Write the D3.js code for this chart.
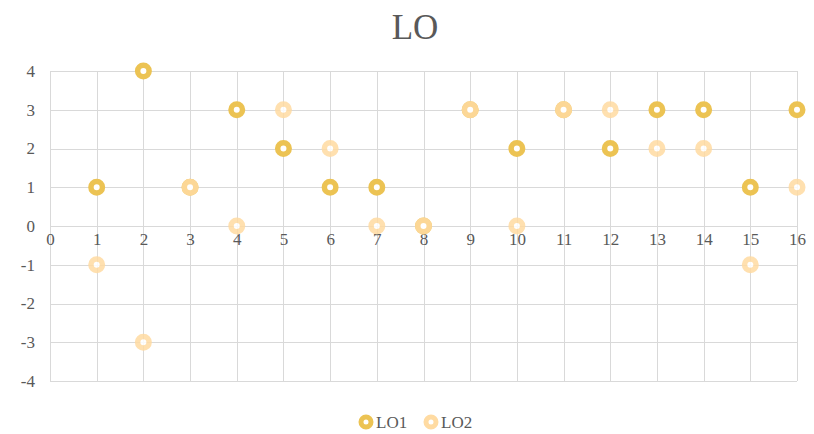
<!DOCTYPE html>
<html>
<head>
<meta charset="utf-8">
<script src="https://cdn.jsdelivr.net/npm/d3@7"></script>
<style>
  html, body { margin: 0; padding: 0; background: #fff; }
  svg text { font-family: "Liberation Serif", "DejaVu Serif", serif; fill: #595959; }
</style>
</head>
<body>
<svg id="chart" width="814" height="434"></svg>
<script>
// Series data: x position 1..16 for each point
const xValues = [1, 2, 3, 4, 5, 6, 7, 8, 9, 10, 11, 12, 13, 14, 15, 16];
const lo1 = [1, 4, 1, 3, 2, 1, 1, 0, 3, 2, 3, 2, 3, 3, 1, 3];
const lo2 = [-1, -3, 1, 0, 3, 2, 0, 0, 3, 0, 3, 3, 2, 2, -1, 1];
const seriesNames = ["LO1", "LO2"];
const seriesColors = ["#ECC353", "#FFDBA2"];
const xTicks = d3.range(0, 17);
const yTicks = d3.range(-4, 5);

const svg = d3.select("#chart");
const margin = { left: 50, right: 17, top: 71, bottom: 53 };
const W = 814, H = 434;

const x = d3.scaleLinear().domain([0, 16]).range([margin.left, W - margin.right]);
const y = d3.scaleLinear().domain([-4, 4]).range([H - margin.bottom, margin.top]);

// Plain hyphen for negative tick labels
const fmt = d => String(d);

// Title
svg.append("text")
  .attr("x", 415).attr("y", 39)
  .attr("text-anchor", "middle")
  .attr("font-size", 35)
  .text("LO");

// Gridlines
const grid = svg.append("g").attr("stroke", "#d9d9d9").attr("stroke-width", 1);
grid.selectAll("line.h").data(yTicks).join("line")
  .attr("x1", x(0)).attr("x2", x(16))
  .attr("y1", d => Math.round(y(d)) + 0.5).attr("y2", d => Math.round(y(d)) + 0.5);
grid.selectAll("line.v").data(xTicks).join("line")
  .attr("y1", y(4)).attr("y2", y(-4))
  .attr("x1", d => Math.round(x(d)) + 0.5).attr("x2", d => Math.round(x(d)) + 0.5);

// Y axis labels
const yAxis = d3.axisLeft(y).tickValues(yTicks).tickFormat(fmt).tickSize(0).tickPadding(15);
const gy = svg.append("g").attr("transform", `translate(${x(0)},0)`).call(yAxis);
gy.select(".domain").remove();
gy.selectAll("text").attr("font-size", 17).attr("fill", "#595959")
  .attr("font-family", "Liberation Serif, DejaVu Serif, serif");

// X axis labels sit along the zero line
const xAxis = d3.axisBottom(x).tickValues(xTicks).tickFormat(fmt).tickSize(0).tickPadding(7);
const gx = svg.append("g").attr("transform", `translate(0,${y(0)})`).call(xAxis);
gx.select(".domain").remove();
gx.selectAll("text").attr("font-size", 17).attr("fill", "#595959")
  .attr("font-family", "Liberation Serif, DejaVu Serif, serif");

// Markers: ring-shaped circles
const series = [lo1, lo2];
series.forEach((vals, i) => {
  svg.append("g")
    .attr("opacity", i === 1 ? 0.85 : 1)
    .selectAll("circle").data(vals).join("circle")
    .attr("cx", (d, j) => x(xValues[j]))
    .attr("cy", d => y(d))
    .attr("r", 5.75)
    .attr("fill", "#fff")
    .attr("stroke", seriesColors[i])
    .attr("stroke-width", 5.5);
});

// Legend
const legend = svg.append("g");
const legendX = [366, 431];
seriesNames.forEach((name, i) => {
  legend.append("circle")
    .attr("cx", legendX[i]).attr("cy", 422)
    .attr("r", 5).attr("fill", "#fff")
    .attr("stroke", seriesColors[i]).attr("stroke-width", 5);
  legend.append("text")
    .attr("x", legendX[i] + 10).attr("y", 428)
    .attr("font-size", 17)
    .text(name);
});
</script>
</body>
</html>
